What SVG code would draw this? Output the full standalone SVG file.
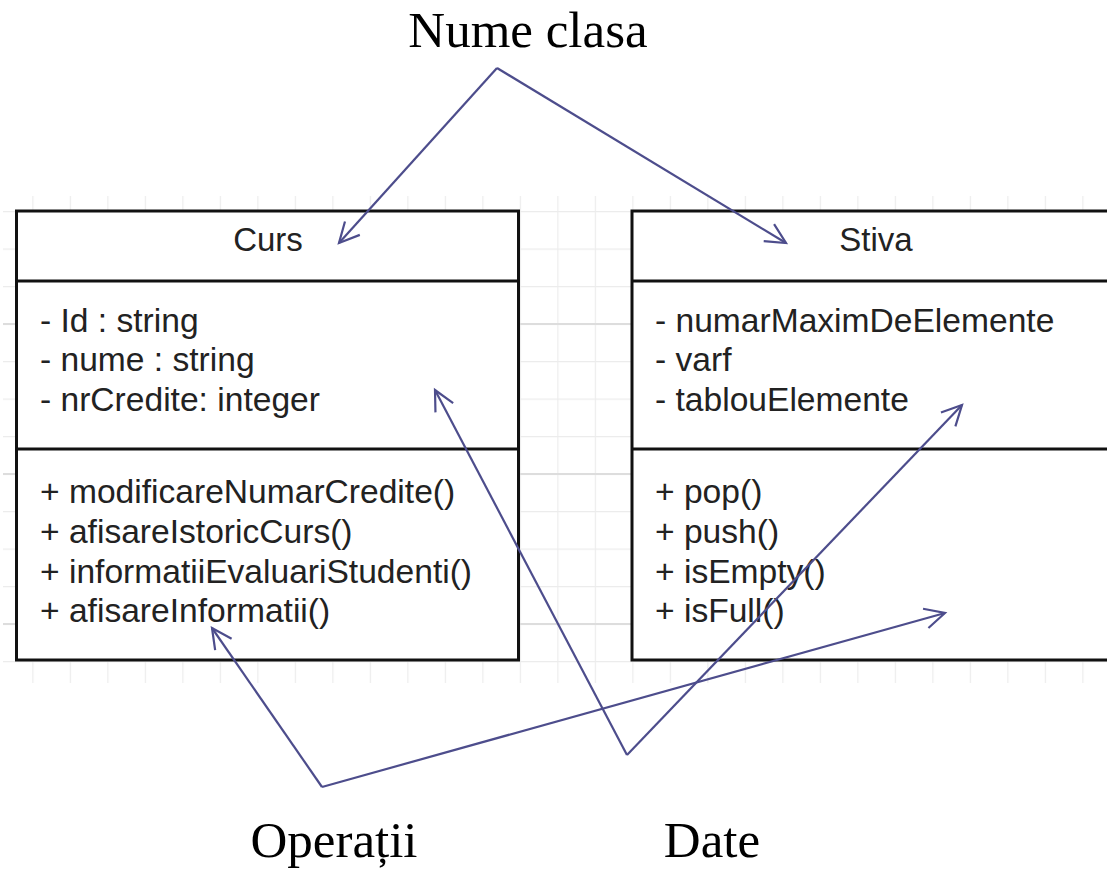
<svg xmlns="http://www.w3.org/2000/svg" width="1107" height="870" viewBox="0 0 1107 870">
  <style>
    .box { fill: #ffffff; stroke: #111111; stroke-width: 3; }
    .div { stroke: #111111; stroke-width: 3; fill: none; }
    .cls { font-family: "Liberation Sans", Arial, sans-serif; font-size: 33px; fill: #222222; text-anchor: middle; }
    .mem { font-family: "Liberation Sans", Arial, sans-serif; font-size: 33.6px; fill: #222222; }
    .lbl { font-family: "Liberation Serif", "Times New Roman", serif; font-size: 51px; fill: #000000; text-anchor: middle; }
    .arr { stroke: #4d4d8c; stroke-width: 2.2; fill: none; marker-end: url(#open); }
    .grid { stroke: #ececec; stroke-width: 1.3; fill: none; }
    .gridM { stroke: #dddddd; stroke-width: 2; fill: none; }
  </style>
  <defs>
    <marker id="open" markerUnits="userSpaceOnUse" markerWidth="26" markerHeight="26" viewBox="0 0 26 26" refX="23" refY="13" orient="auto">
      <path d="M3,3 L23,13 L3,23" fill="none" stroke="#4d4d8c" stroke-width="2.2"/>
    </marker>
    <pattern id="gridPat" x="32.3" y="211" width="37.5" height="37.5" patternUnits="userSpaceOnUse">
      <path d="M0.5,0 L0.5,37.5 M0,0.5 L37.5,0.5" class="grid"/>
    </pattern>
  </defs>
  <rect width="1107" height="870" fill="#ffffff"/>
  <g id="grid">
    <rect x="3" y="196" width="1104" height="487" fill="url(#gridPat)"/>
    <path class="gridM" d="M3,324 L1107,324 M3,474 L1107,474 M3,624 L1107,624"/>
  </g>
  <g id="curs">
    <rect class="box" x="16.5" y="211" width="502" height="449"/>
    <path class="div" d="M16.5,281 L518.5,281 M16.5,449 L518.5,449"/>
    <text class="cls" x="268" y="251">Curs</text>
    <text class="mem" x="40" y="332">- Id : string</text>
    <text class="mem" x="40" y="371">- nume : string</text>
    <text class="mem" x="40" y="411">- nrCredite: integer</text>
    <text class="mem" x="40" y="503">+ modificareNumarCredite()</text>
    <text class="mem" x="40" y="543">+ afisareIstoricCurs()</text>
    <text class="mem" x="40" y="583">+ informatiiEvaluariStudenti()</text>
    <text class="mem" x="40" y="622">+ afisareInformatii()</text>
  </g>
  <g id="stiva">
    <rect class="box" x="632" y="211" width="490" height="449"/>
    <path class="div" d="M632,281 L1122,281 M632,449 L1122,449"/>
    <text class="cls" x="876" y="251">Stiva</text>
    <text class="mem" x="655" y="332">- numarMaximDeElemente</text>
    <text class="mem" x="655" y="371">- varf</text>
    <text class="mem" x="655" y="411">- tablouElemente</text>
    <text class="mem" x="655" y="503">+ pop()</text>
    <text class="mem" x="655" y="543">+ push()</text>
    <text class="mem" x="655" y="583">+ isEmpty()</text>
    <text class="mem" x="655" y="622">+ isFull()</text>
  </g>
  <g id="label-nume-clasa">
    <text class="lbl" x="528" y="47">Nume clasa</text>
  </g>
  <g id="label-operatii">
    <text class="lbl" x="334" y="857">Operații</text>
  </g>
  <g id="label-date">
    <text class="lbl" x="712" y="857">Date</text>
  </g>
  <g id="connectors">
    <path class="arr" d="M497,68 L339,243"/>
    <path class="arr" d="M497,68 L786,243"/>
    <path class="arr" d="M322,787 L212,628"/>
    <path class="arr" d="M322,787 L945,613"/>
    <path class="arr" d="M627,755 L435,390"/>
    <path class="arr" d="M627,755 L962,405"/>
  </g>
</svg>
